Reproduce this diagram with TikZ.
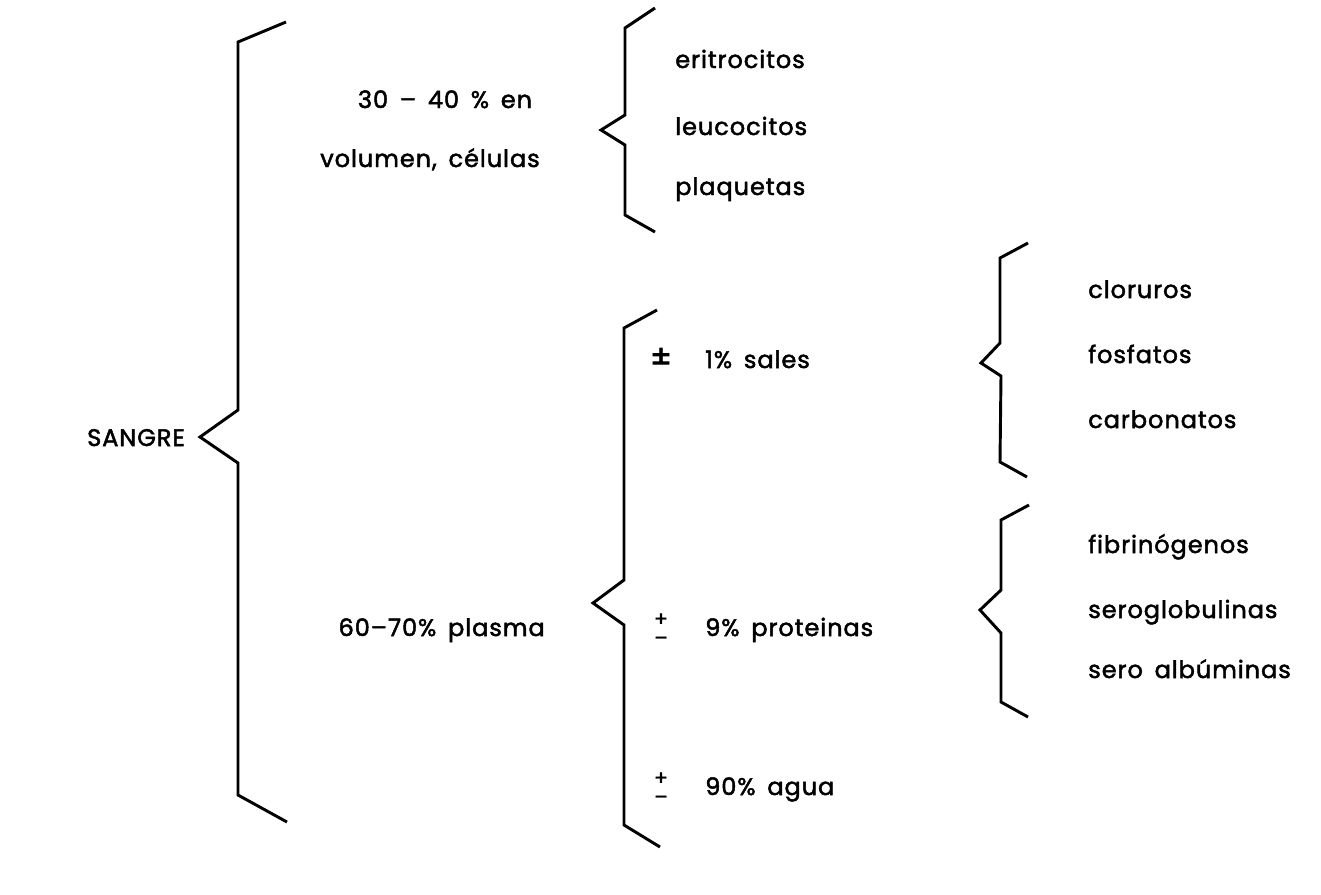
\documentclass[tikz,border=0pt]{standalone}
\usepackage{fontspec}
\setmainfont{Poppins}[LetterSpace=4.0, WordSpace=1.6, FakeBold=2]
\begin{document}
\begin{tikzpicture}[x=0.75pt,y=-0.75pt,
  brace/.style={line width=2.2pt, line join=miter},
  lbl/.style={anchor=base west, inner sep=0pt, font=\fontsize{18}{20}\selectfont},
  lblr/.style={lbl, anchor=base east},
  lblc/.style={lbl, anchor=base},
  sym/.style={anchor=base, inner sep=0pt, font=\fontsize{15}{15}\selectfont},
  bigsym/.style={anchor=base, inner sep=0pt, font=\fontsize{24}{24}\selectfont}]
\useasboundingbox (0,0) rectangle (1321,894);
\fill[white] (0,0) rectangle (1321,894);

% braces
\draw[brace] (286,22) -- (238,42) -- (238,410) -- (200,437) -- (238,463) -- (238,795) -- (287,822);
\draw[brace] (655,8) -- (625,28) -- (625,115) -- (601,130) -- (625,145) -- (625,215) -- (655,232);
\draw[brace] (657,310) -- (624,328) -- (624,580) -- (593,603) -- (624,625) -- (624,825) -- (660,847);
\draw[brace] (1028,243) -- (1000,258) -- (1000,343) -- (981,363) -- (1001,376) -- (1000,462) -- (1027,477);
\draw[brace] (1029,505) -- (1001,520) -- (1001,590) -- (980,610) -- (1001,633) -- (1001,702) -- (1028,717);

% root
\node[lblr] (sangre) at (185,446) {SANGRE};

% cells
\node[lblc] (cel1) at (445,108) {30 – 40 \% en};
\node[lblc] (cel2) at (430,167) {volumen, células};
\node[lbl] (eri) at (675,68) {eritrocitos};
\node[lbl] (leu) at (675,135) {leucocitos};
\node[lbl] (pla) at (675,195) {plaquetas};

% plasma
\node[lblr] (plasma) at (545,636) {60–70\% plasma};
\node[bigsym] (pm1) at (661,368) {±};
\node[lbl] (sales) at (705,368) {1\% sales};
\node[sym] (p2) at (661,626) {+};
\node[sym] (m2) at (661,645) {–};
\node[lbl] (prot) at (705,636) {9\% proteinas};
\node[sym] (p3) at (661,785) {+};
\node[sym] (m3) at (661,804) {–};
\node[lbl] (agua) at (705,795) {90\% agua};

% salts
\node[lbl] (clo) at (1088,298) {cloruros};
\node[lbl] (fos) at (1088,363) {fosfatos};
\node[lbl] (car) at (1088,428) {carbonatos};

% proteins
\node[lbl] (fib) at (1088,553) {fibrinógenos};
\node[lbl] (ser) at (1088,618) {seroglobulinas};
\node[lbl] (alb) at (1088,678) {sero albúminas};
\end{tikzpicture}
\end{document}
